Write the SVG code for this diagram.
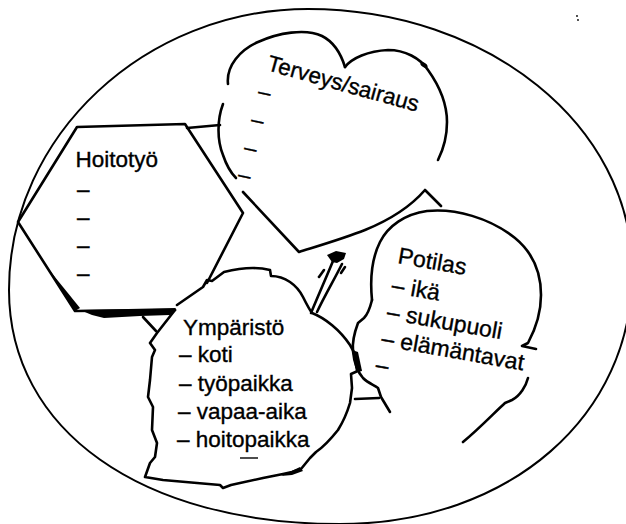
<svg xmlns="http://www.w3.org/2000/svg" width="626" height="524" viewBox="0 0 626 524">
<style>
.ln{fill:none;stroke:#000;stroke-width:2.6;stroke-linecap:round;stroke-linejoin:round}
.thin{fill:none;stroke:#000;stroke-width:2;stroke-linecap:round}
.blk{fill:#000;stroke:none}
text{font-family:"Liberation Sans",Arial,sans-serif;font-size:22.5px;fill:#000;stroke:#000;stroke-width:0.35}
</style>
<rect width="626" height="524" fill="#fff"/>
<g id="frame">
<path class="thin" d="M308,9 C488,9 632,126 632,270 C634,415 510,524 340,524 C141,524 9,430 9,290 C9,135 146,9 308,9 Z"/>
<circle class="blk" cx="577" cy="16" r="0.9"/><circle class="blk" cx="578" cy="20" r="0.9"/>
</g>
<g id="hoitotyo">
<path class="ln" d="M207,283 L243,213 L185,124 L77,127 L18,222 L75,311 L175,310"/>
<polygon class="blk" points="46,266 75,311 80,308"/>
<polygon class="blk" points="80,310 176,308 170,315 140,316 104,318 92,315"/>
<text x="75.5" y="167">Hoitotyö</text>
<text x="77" y="197">–</text>
<text x="77" y="225">–</text>
<text x="77" y="253">–</text>
<text x="77" y="281">–</text>
</g>
<g id="terveys">
<path class="ln" d="M228,84 C226,66 240,50 258,42 C278,33 305,28 322,36 C334,42 341,54 345,67"/>
<path class="ln" d="M345,67 C352,58 368,51 388,50 C405,50 420,58 428,70 C438,84 447,103 447,122 C447,138 443,150 438,160"/>
<ellipse class="blk" cx="424" cy="65" rx="4" ry="2.2" transform="rotate(35 424 65)"/>
<path class="ln" d="M223,104 C217,120 217,140 223,155 C226,164 230,172 236,178"/>
<path class="ln" d="M243,192 L299,252 C318,246 345,238 365,230 C392,219 412,205 425,190 L441,206"/>
<text transform="translate(266,70) rotate(15.5)">Terveys/sairaus</text>
<text transform="translate(257,98) rotate(12)">–</text>
<text transform="translate(250,126) rotate(12)">–</text>
<text transform="translate(243,154) rotate(12)">–</text>
<text transform="translate(237,181) rotate(12)">–</text>
</g>
<g id="potilas">
<path class="ln" d="M372,300 C370,280 372,258 380,242 C388,226 405,214 427,211 C455,208 490,218 515,238 C532,252 541,272 541,295 C541,315 535,330 528,343 L522,346 L536,349"/>
<path class="ln" d="M528,378 C526,386 520,396 512,400 L505,403 C495,412 480,428 463,442"/>
<path class="ln" d="M372,300 C370,308 368,314 364,318 L358,323 C355,331 352,341 353,351 C354,361 356,370 363,378 C368,383 374,385 378,388 L381,397 L390,412"/>
<path class="ln" d="M355,399 L379,398"/>
<g transform="translate(397,263) rotate(10)" style="font-size:23px">
<text x="0" y="0" style="font-size:23px">Potilas</text>
<text x="-1" y="30" style="font-size:23px">– ikä</text>
<text x="-1" y="57" style="font-size:23px">– sukupuoli</text>
<text x="-2" y="84" style="font-size:23px">– elämäntavat</text>
<text x="-3" y="111" style="font-size:23px">–</text>
</g>
</g>
<g id="ymparisto">
<path class="ln" d="M177,305 L203,287 L207,280 L212,281 L224,272 C240,268 258,267 270,270 L271,276 C285,276 297,285 303,297 C306,303 309,309 312,313 C325,318 340,330 350,345 C355,353 358,362 360,370 L351,374 L352,388 L350,403 C347,413 343,422 338,430 C330,440 322,448 316,452 L310,458 L301,469 L292,472 L283,474 L263,478 L240,483 L231,485 L223,488 L220,485 L197,483 L163,480 L145,477 L150,463 L155,457 L157,443 L152,430 L153,407 L148,397 L150,380 L152,357 L155,350 L150,343 L157,333 L175,310"/>
<path class="ln" d="M143,317 L156,331"/>
<polygon class="blk" points="352,350 358,352 362,371 356,372"/>
<polygon class="blk" points="281,476 300,467 303,471 292,475"/>
<text x="183" y="335">Ympäristö</text>
<text x="179" y="362">– koti</text>
<text x="179" y="391">– työpaikka</text>
<text x="178" y="419">– vapaa-aika</text>
<text x="177" y="447">– hoitopaikka</text>
<path d="M240,458 L258,458" stroke="#000" stroke-width="1.4"/>
</g>
<g id="connectors">
<path class="ln" d="M187,128 L220,125"/>
<path class="ln" d="M311,313 C318,296 326,278 333,261"/>
<path class="ln" d="M317,312 C325,295 334,280 342,264"/>
<polygon class="blk" points="327,255 336,251 346,253 344,259 337,263 332,262"/>
<path class="ln" d="M319,277 L324,270"/>
<path class="ln" d="M341,273 L345,267"/>
</g>
</svg>
